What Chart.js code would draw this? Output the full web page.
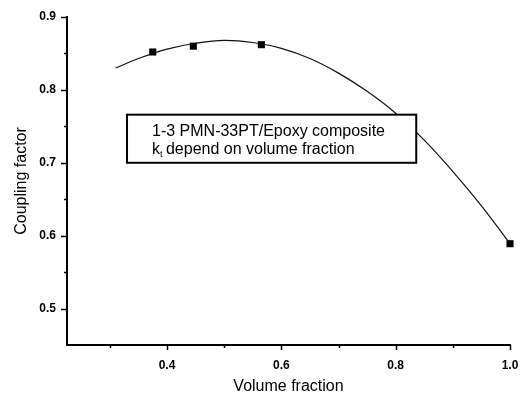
<!DOCTYPE html>
<html>
<head>
<meta charset="utf-8">
<script src="https://cdn.jsdelivr.net/npm/chart.js@4/dist/chart.umd.min.js"></script>
<style>
  html, body { margin: 0; padding: 0; background: #fff; }
  #wrap { width: 520px; height: 396px; position: relative; }
</style>
</head>
<body>
<div id="wrap"><canvas id="chart"></canvas></div>
<script>
// measured samples (squares)
var fracPts = [0.375, 0.446, 0.565, 1.0];
var kPts = [0.852, 0.860, 0.862, 0.589];

// fitted curve
var fitX = [0.31, 0.35, 0.40, 0.45, 0.50, 0.55, 0.60, 0.65, 0.70, 0.75, 0.80, 0.85, 0.90, 0.95, 1.00];
var fitY = [0.830, 0.843, 0.856, 0.864, 0.868, 0.865, 0.857, 0.843, 0.823, 0.798, 0.768, 0.731, 0.688, 0.641, 0.589];

var xTicks = [0.3, 0.4, 0.5, 0.6, 0.7, 0.8, 0.9, 1.0];
var xLabels = ['', '0.4', '', '0.6', '', '0.8', '', '1.0'];
var yTicks = [0.5, 0.55, 0.6, 0.65, 0.7, 0.75, 0.8, 0.85, 0.9];
var yLabels = ['0.5', '', '0.6', '', '0.7', '', '0.8', '', '0.9'];

var noteLine1 = '1-3 PMN-33PT/Epoxy composite';
var noteLine2 = ['k', 't', ' depend on volume fraction'];
// note box corners in data units [x0, y0, x1, y1]
var noteBox = [0.330, 0.766, 0.836, 0.700];

var FONT = '"Liberation Sans", Arial, sans-serif';

function labelFor(list, labels, v) {
  for (var i = 0; i < list.length; i++) {
    if (Math.abs(list[i] - v) < 1e-6) return labels[i];
  }
  return '';
}

var axisTicks = {
  id: 'axisTicks',
  afterDraw: function (chart) {
    var ctx = chart.ctx;
    var xs = chart.scales.x, ys = chart.scales.y;
    var a = chart.chartArea;
    ctx.save();
    ctx.strokeStyle = '#000';
    ctx.lineWidth = 1.5;
    xTicks.forEach(function (v, i) {
      var px = Math.round(xs.getPixelForValue(v)) + 0.5;
      var len = xLabels[i] ? 5 : 3;
      ctx.beginPath();
      ctx.moveTo(px, a.bottom);
      ctx.lineTo(px, a.bottom + len);
      ctx.stroke();
    });
    yTicks.forEach(function (v, i) {
      var py = Math.round(ys.getPixelForValue(v)) + 0.5;
      var len = yLabels[i] ? 6 : 3;
      ctx.beginPath();
      ctx.moveTo(a.left, py);
      ctx.lineTo(a.left - len, py);
      ctx.stroke();
    });

    // note box
    var bx0 = xs.getPixelForValue(noteBox[0]), by0 = ys.getPixelForValue(noteBox[1]);
    var bx1 = xs.getPixelForValue(noteBox[2]), by1 = ys.getPixelForValue(noteBox[3]);
    ctx.fillStyle = '#fff';
    ctx.fillRect(bx0, by0, bx1 - bx0, by1 - by0);
    ctx.lineWidth = 2;
    ctx.strokeRect(bx0, by0, bx1 - bx0, by1 - by0);

    ctx.fillStyle = '#000';
    ctx.textBaseline = 'alphabetic';
    ctx.textAlign = 'left';
    ctx.font = '16px ' + FONT;
    var tx = bx0 + 25;
    ctx.fillText(noteLine1, tx, by0 + 21);
    var base2 = by0 + 39;
    ctx.fillText(noteLine2[0], tx, base2);
    var w = ctx.measureText(noteLine2[0]).width;
    ctx.font = '9px ' + FONT;
    ctx.fillText(noteLine2[1], tx + w, base2 + 3);
    var w2 = ctx.measureText(noteLine2[1]).width;
    ctx.font = '16px ' + FONT;
    ctx.fillText(noteLine2[2], tx + w + w2 - 1, base2);
    ctx.restore();
  }
};

var fitData = fitX.map(function (x, i) { return { x: x, y: fitY[i] }; });
var ptData = fracPts.map(function (x, i) { return { x: x, y: kPts[i] }; });

new Chart(document.getElementById('chart'), {
  type: 'scatter',
  data: {
    datasets: [
      {
        label: 'fit',
        data: fitData,
        showLine: true,
        borderColor: '#111',
        borderWidth: 1.2,
        pointRadius: 0,
        tension: 0.4,
        fill: false
      },
      {
        label: 'k_t',
        data: ptData,
        pointStyle: 'rect',
        pointRadius: 5,
        backgroundColor: '#000',
        borderColor: '#000',
        borderWidth: 0,
        clip: false
      }
    ]
  },
  options: {
    responsive: true,
    maintainAspectRatio: false,
    animation: false,
    layout: { padding: { top: 17, right: 10, left: 0, bottom: 0 } },
    plugins: { legend: { display: false }, tooltip: { enabled: false } },
    scales: {
      x: {
        type: 'linear',
        min: 0.225,
        max: 1.0,
        afterBuildTicks: function (s) { s.ticks = xTicks.map(function (v) { return { value: v }; }); },
        afterFit: function (s) { s.height = 51; s.paddingLeft = 0; s.paddingRight = 0; },
        grid: { display: false, drawTicks: false },
        border: { display: true, color: '#000', width: 2 },
        ticks: {
          color: '#000',
          padding: 13,
          autoSkip: false,
          maxRotation: 0,
          font: { family: FONT, size: 12, weight: 'bold' },
          callback: function (v) { return labelFor(xTicks, xLabels, v); }
        },
        title: {
          display: true,
          text: 'Volume fraction',
          color: '#000',
          font: { family: FONT, size: 16 },
          padding: { top: 0, bottom: 0 }
        }
      },
      y: {
        type: 'linear',
        min: 0.45,
        max: 0.9,
        afterBuildTicks: function (s) { s.ticks = yTicks.map(function (v) { return { value: v }; }); },
        afterFit: function (s) { s.width = 67; s.paddingTop = 0; s.paddingBottom = 0; },
        grid: { display: false, drawTicks: false },
        border: { display: true, color: '#000', width: 2 },
        ticks: {
          color: '#000',
          padding: 11,
          autoSkip: false,
          font: { family: FONT, size: 12, weight: 'bold' },
          callback: function (v) { return labelFor(yTicks, yLabels, v); }
        },
        title: {
          display: true,
          text: 'Coupling factor',
          color: '#000',
          font: { family: FONT, size: 16 },
          padding: { top: 12, bottom: 0 }
        }
      }
    }
  },
  plugins: [axisTicks]
});
</script>
</body>
</html>
